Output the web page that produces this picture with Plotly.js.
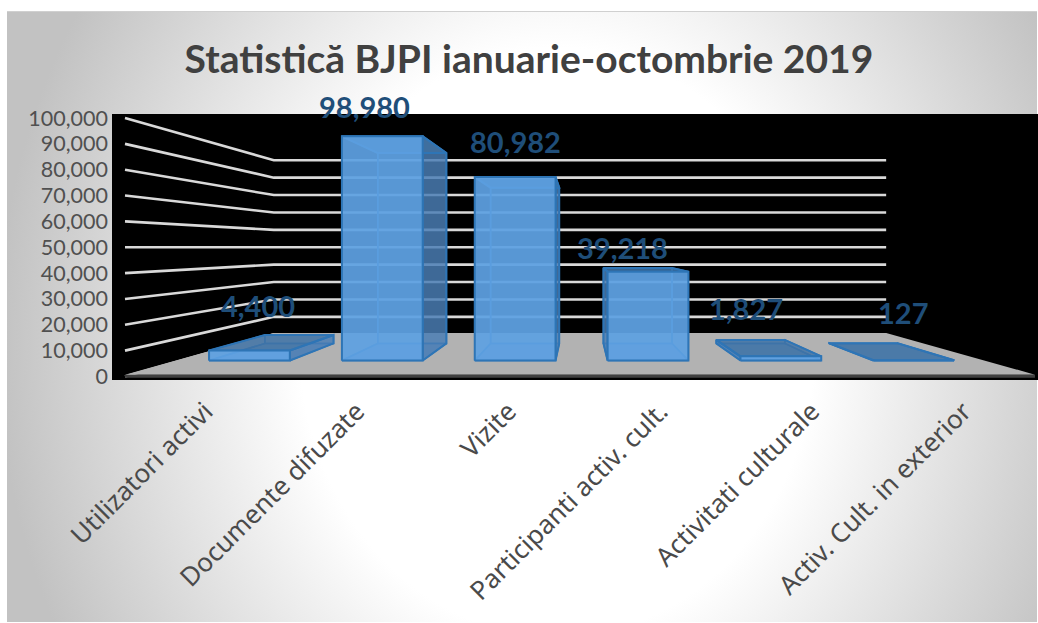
<!DOCTYPE html>
<html>
<head>
<meta charset="utf-8">
<script src="https://cdn.plot.ly/plotly-3.0.1.min.js"></script>
<style>
html,body{margin:0;padding:0;background:#fff;width:1038px;height:623px;overflow:hidden}
#bg{position:absolute;left:7px;top:11px;width:1030px;height:611px;border-top:1px solid #d0d0d0;box-sizing:border-box;
background:radial-gradient(ellipse 560px 640px at 550px 330px,#ffffff 46%,#c2c2c2 100%)}
#chart{position:absolute;left:0;top:0;width:1038px;height:623px}
</style>
</head>
<body>
<div id="bg"></div>
<div id="chart"></div>
<script>
const categories = ["Utilizatori activi","Documente difuzate","Vizite","Participanti activ. cult.","Activitati culturale","Activ. Cult. in exterior"];
const values = [4400, 98980, 80982, 39218, 1827, 127];
const valueTicks = [0,10000,20000,30000,40000,50000,60000,70000,80000,90000,100000];
const labelNudgeX = [9,-18,0,-26,-35,-11];
const labelNudgeY = [45,30,36,24,48,48];

// perspective: depth 0 = front of floor, wallDepth = back wall
const wallDepth = 0.486, barFront = 0.1416, barBack = 0.344;
const barStart = 0.208, barEnd = 0.816;
const vanishC = 3, vanishV = 50000, nCat = categories.length;
function proj(c, v, z){ const s = 1/(1+z); return [vanishC+(c-vanishC)*s, vanishV+(v-vanishV)*s]; }

const traces = [];
function poly(pts, fill, line, width){
  const p = pts.map(q=>proj(q[0],q[1],q[2]));
  traces.push({type:'scatter',x:p.map(a=>a[0]).concat(p[0][0]),y:p.map(a=>a[1]).concat(p[0][1]),
    mode:line?'lines':'none',fill:'toself',fillcolor:fill,line:{color:line||fill,width:width||1},hoverinfo:'skip',showlegend:false});
}
// gridlines on the side walls and back wall
valueTicks.forEach(v=>{
  const p = [[0,v,0],[0,v,wallDepth],[nCat,v,wallDepth]].map(q=>proj(q[0],q[1],q[2]));
  traces.push({type:'scatter',x:p.map(a=>a[0]),y:p.map(a=>a[1]),mode:'lines',line:{color:'#d9d9d9',width:2.6},hoverinfo:'skip',showlegend:false});
});
// floor slab
const ft = 700, fb = -500;
poly([[0,ft,0],[nCat,ft,0],[nCat,ft,wallDepth],[0,ft,wallDepth]],'#b2b2b2');
poly([[0,ft,0],[nCat,ft,0],[nCat,fb,0],[0,fb,0]],'#404040');

const EDGE='#2e75b6';
values.forEach((val,i)=>{
  const a=i+barStart,b=i+barEnd,f=barFront,k=barBack,h=val;
  poly([[a,0,k],[b,0,k],[b,h,k],[a,h,k]],'rgba(70,125,185,0.35)',EDGE,1.5);   // back
  poly([[a,0,f],[b,0,f],[b,0,k],[a,0,k]],'rgba(70,125,185,0.55)',EDGE,1.5);   // bottom
  const sideC = (i<3)?b:a, otherC=(i<3)?a:b;
  poly([[otherC,0,f],[otherC,h,f],[otherC,h,k],[otherC,0,k]],'rgba(70,125,185,0.25)',EDGE,1.5);
  poly([[sideC,0,f],[sideC,h,f],[sideC,h,k],[sideC,0,k]],'rgba(75,125,180,0.75)',EDGE,2);
  poly([[a,h,f],[b,h,f],[b,h,k],[a,h,k]],'rgba(65,115,165,0.8)',EDGE,2);     // top
  poly([[a,0,f],[b,0,f],[b,h,f],[a,h,f]],'rgba(95,162,226,0.91)',EDGE,2);    // front
});

const annotations = values.map((val,i)=>{
  const p = proj(i+(barStart+barEnd)/2,val,barFront);
  return {x:p[0],y:p[1],xref:'x',yref:'y',text:'<b>'+val.toLocaleString('en-US')+'</b>',showarrow:false,
    xanchor:'center',yanchor:'middle',xshift:labelNudgeX[i],yshift:labelNudgeY[i],
    font:{family:'Lato, sans-serif',size:29,color:'#1f4e79'}};
});

const layout = {
  width:1038,height:623,
  margin:{l:112,r:0,t:114,b:243,pad:0},
  paper_bgcolor:'rgba(0,0,0,0)',plot_bgcolor:'#000000',
  title:{text:'<b>Statistică BJPI ianuarie-octombrie 2019</b>',x:0.5096,xref:'container',xanchor:'center',y:0.905,yref:'container',yanchor:'middle',
    font:{family:'Lato, sans-serif',size:39,color:'#404040'}},
  showlegend:false,
  xaxis:{range:[-0.0857,6.02],tickmode:'array',tickvals:categories.map((_,i)=>i+0.53),ticktext:categories,
    tickangle:-45,showgrid:false,zeroline:false,showline:false,ticks:'',ticklabelstandoff:10,
    tickfont:{family:'Noto Sans',size:26,color:'#4a4a4a',weight:400},automargin:false},
  yaxis:{range:[-1357,101550],tickmode:'array',tickvals:valueTicks,ticktext:valueTicks.map(v=>v.toLocaleString('en-US')),
    showgrid:false,zeroline:false,showline:false,ticks:'',ticklabelstandoff:3,
    tickfont:{family:'Lato, sans-serif',size:21.5,color:'#505050'},automargin:false},
  annotations:annotations
};
Plotly.newPlot('chart',traces,layout,{displayModeBar:false,staticPlot:true});
</script>
</body>
</html>
